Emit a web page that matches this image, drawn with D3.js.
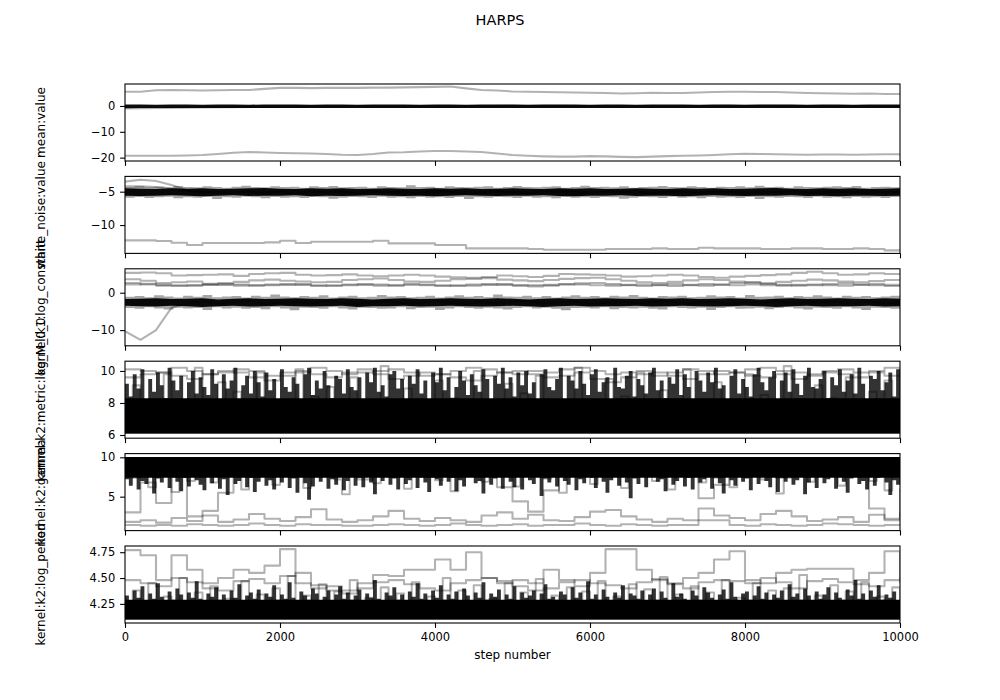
<!DOCTYPE html>
<html><head><meta charset="utf-8">
<script src="https://cdn.jsdelivr.net/npm/d3@7"></script>
<style>body{margin:0;background:#fff}</style>
</head><body><div id="chart"></div>
<script>
// ---------------- DATA ----------------
const title = "HARPS";
const xLabel = "step number";
const labels = ["mean:value","white_noise:value","kernel:k1:log_constant","kernel:k2:metric:log_M_0_0","kernel:k2:gamma","kernel:k2:log_period"];
const nSteps = 10000;
const xTicks = [0,2000,4000,6000,8000,10000];
const yDomains = [[-21.3,8.5],[-14.25,-2.71],[-14.2,6.4],[5.8,10.61],[0.69,10.47],[4.065,4.81]];
const yTicks = [[-20,-10,0],[-10,-5],[-10,0],[6,8,10],[5,10],[4.25,4.5,4.75]];

// panel 1: mean:value
const p1CoreLow = [-0.9,-0.75,-0.8,-0.75,-0.8,-0.75,-0.8,-0.75,-0.8,-0.8,-0.75,-0.75,-0.8,-0.75,-0.75,-0.8,-0.75,-0.8,-0.75,-0.8,-0.8,-0.75,-0.8,-0.75,-0.75,-0.8,-0.8,-0.75,-0.8,-0.75,-0.8,-0.75,-0.8,-0.8,-0.75,-0.75,-0.8,-0.8,-0.75,-0.8,-0.75,-0.8,-0.75,-0.8,-0.75,-0.8,-0.8,-0.75,-0.75,-0.8,-0.8];
const p1CoreHigh = [0.6,0.55,0.5,0.6,0.55,0.5,0.55,0.6,0.5,0.55,0.6,0.55,0.5,0.55,0.6,0.5,0.55,0.6,0.55,0.5,0.55,0.6,0.5,0.55,0.55,0.6,0.5,0.55,0.6,0.55,0.5,0.55,0.6,0.5,0.55,0.6,0.55,0.5,0.55,0.6,0.5,0.55,0.6,0.55,0.5,0.55,0.6,0.5,0.55,0.6,0.55];
const p1Upper = [5.5,5.5,6.1,6.2,6.1,6.0,6.1,6.2,6.2,6.6,7.0,7.0,6.9,7.0,7.0,7.0,7.1,7.1,7.2,7.3,7.4,7.5,6.8,6.2,6.0,5.6,5.5,5.4,5.3,5.2,5.1,5.0,4.8,4.9,5.1,5.0,5.0,5.2,5.4,5.5,5.5,5.4,5.4,5.2,5.0,4.9,4.8,4.7,4.8,4.6,4.6];
const p1Lower = [-19.3,-19.3,-19.3,-19.3,-19.2,-19.0,-18.6,-18.1,-17.8,-18.0,-18.2,-18.3,-18.4,-18.6,-18.9,-19.0,-18.6,-18.0,-17.9,-17.6,-17.4,-17.4,-17.6,-17.8,-18.4,-19.0,-19.3,-19.5,-19.6,-19.6,-19.4,-19.5,-19.7,-19.8,-19.6,-19.4,-19.3,-19.2,-19.0,-18.7,-18.5,-18.6,-18.7,-18.8,-18.9,-18.8,-18.8,-18.9,-18.8,-18.7,-18.7];
const p1Start = [-1.0,-0.6,-0.3,0.0,-0.2,0.1,0.0,-0.1,0.1,0.0,-0.1];

// panel 2: white_noise:value
const p2CoreLow = [-5.6,-5.65,-5.6,-5.55,-5.6,-5.7,-5.6,-5.55,-5.65,-5.6,-5.6,-5.55,-5.7,-5.6,-5.65,-5.6,-5.55,-5.6,-5.65,-5.6,-5.7,-5.6,-5.55,-5.6,-5.65,-5.6,-5.6,-5.55,-5.65,-5.7,-5.6,-5.6,-5.55,-5.65,-5.6,-5.6,-5.7,-5.6,-5.55,-5.6,-5.65,-5.6,-5.6,-5.55,-5.65,-5.6,-5.7,-5.6,-5.6,-5.65,-5.6];
const p2CoreHigh = [-4.5,-4.55,-4.6,-4.5,-4.55,-4.5,-4.6,-4.55,-4.5,-4.45,-4.55,-4.6,-4.5,-4.55,-4.5,-4.6,-4.55,-4.5,-4.55,-4.6,-4.5,-4.55,-4.5,-4.6,-4.55,-4.5,-4.55,-4.6,-4.5,-4.55,-4.5,-4.6,-4.55,-4.5,-4.55,-4.6,-4.5,-4.55,-4.5,-4.6,-4.55,-4.5,-4.45,-4.55,-4.6,-4.5,-4.55,-4.5,-4.6,-4.55,-4.5];
const p2FuzzHigh = [-4.3,-4.2,-4.35,-4.25,-4.4,-4.15,-4.3,-4.35,-4.2,-4.3,-4.4,-4.25,-4.1,-4.3,-4.35,-4.2,-4.3,-4.25,-4.4,-4.2,-4.3,-4.15,-4.35,-4.3,-4.25,-4.4,-4.2,-4.3,-4.35,-4.05,-4.3,-4.25,-4.4,-4.2,-4.3,-4.35,-4.25,-4.2,-4.4,-4.3,-4.15,-4.3,-4.35,-4.25,-4.2,-4.4,-4.3,-4.1,-4.3,-4.25,-4.35,-4.2,-4.4,-4.3,-4.25,-4.15,-4.3,-4.35,-4.2,-4.3,-4.4,-4.25,-4.3,-4.2,-4.35,-4.1,-4.3,-4.25,-4.4,-4.2,-4.3,-4.35,-4.25,-4.2,-4.3,-4.15,-4.4,-4.3,-4.25,-4.35,-4.3];
const p2FuzzLow = [-5.9,-5.8,-5.95,-5.85,-5.75,-6.0,-5.85,-5.9,-5.8,-6.1,-5.85,-5.9,-5.75,-5.85,-6.0,-5.8,-5.9,-5.85,-5.95,-5.8,-5.85,-6.05,-5.9,-5.8,-5.85,-5.95,-5.75,-5.9,-5.85,-6.0,-5.8,-5.9,-5.85,-5.95,-5.8,-6.1,-5.85,-5.9,-5.8,-5.85,-5.95,-5.75,-5.9,-5.85,-6.0,-5.8,-5.9,-5.85,-5.95,-5.8,-5.85,-6.05,-5.9,-5.8,-5.85,-5.95,-5.75,-5.9,-5.85,-6.0,-5.8,-5.9,-5.85,-5.95,-5.8,-6.1,-5.85,-5.9,-5.8,-5.85,-5.95,-5.75,-5.9,-5.85,-6.0,-5.8,-5.9,-5.85,-5.95,-5.8,-5.85];
const p2WalkerA = [-3.5,-3.2,-3.4,-4.0,-4.8,-5.0,-5.2,-4.9,-5.1,-5.3,-4.9,-5.0,-5.2,-5.1,-4.9,-5.2,-5.0,-5.1,-4.9,-5.3,-5.0,-5.1,-4.9,-5.2,-5.0,-5.1,-5.2,-4.9,-5.0,-5.3,-5.1,-4.9,-5.0,-5.2,-5.1,-5.0,-4.9,-5.2,-5.1,-5.0,-5.3,-4.9,-5.1,-5.0,-5.2,-4.9,-5.1,-5.0,-5.2,-5.1,-5.0];
const p2WalkerB = [-4.2,-4.2,-4.3,-4.5,-4.9,-5.1,-5.0,-5.2,-4.9,-5.1,-5.0,-5.3,-4.9,-5.0,-5.1,-5.2,-4.9,-5.0,-5.2,-5.1,-4.9,-5.0,-5.3,-5.1,-4.9,-5.0,-5.2,-5.1,-5.0,-4.9,-5.2,-5.0,-5.1,-4.9,-5.3,-5.0,-5.1,-5.2,-4.9,-5.0,-5.1,-5.2,-5.0,-4.9,-5.1,-5.3,-5.0,-5.1,-4.9,-5.0,-5.2];
const p2Lower = [-12.3,-12.3,-12.4,-12.65,-13.0,-12.7,-12.7,-12.7,-12.7,-12.6,-12.35,-12.7,-12.5,-12.5,-12.5,-12.5,-12.35,-12.75,-12.75,-12.75,-13.0,-13.0,-13.5,-13.5,-13.5,-13.5,-13.6,-13.7,-13.7,-13.7,-13.7,-13.6,-13.6,-13.6,-13.5,-13.6,-13.6,-13.4,-13.5,-13.5,-13.5,-13.6,-13.6,-13.5,-13.5,-13.6,-13.6,-13.5,-13.6,-13.8,-13.8];

// panel 3: kernel:k1:log_constant
const p3CoreLow = [-3.5,-3.6,-3.7,-3.5,-3.6,-3.8,-3.6,-3.5,-3.7,-3.6,-3.5,-3.6,-3.7,-3.6,-3.5,-3.8,-3.6,-3.6,-3.5,-3.7,-3.6,-3.5,-3.6,-3.7,-3.6,-3.5,-3.6,-3.8,-3.6,-3.5,-3.7,-3.6,-3.6,-3.5,-3.7,-3.6,-3.5,-3.6,-3.7,-3.6,-3.5,-3.6,-3.8,-3.6,-3.5,-3.7,-3.6,-3.6,-3.5,-3.7,-3.6];
const p3CoreHigh = [-1.7,-1.6,-1.5,-1.7,-1.6,-1.5,-1.8,-1.6,-1.5,-1.7,-1.6,-1.5,-1.6,-1.7,-1.5,-1.6,-1.8,-1.6,-1.5,-1.7,-1.6,-1.5,-1.6,-1.7,-1.5,-1.6,-1.8,-1.6,-1.5,-1.7,-1.6,-1.5,-1.6,-1.7,-1.5,-1.6,-1.5,-1.7,-1.6,-1.5,-1.6,-1.8,-1.6,-1.5,-1.7,-1.6,-1.5,-1.6,-1.7,-1.5,-1.6];
const p3FuzzHigh = [-1.1,-0.9,-1.2,-0.7,-1.0,-1.3,-0.8,-1.1,-0.6,-1.2,-1.0,-0.9,-1.3,-0.8,-1.1,-0.5,-1.0,-1.2,-0.9,-1.1,-0.7,-1.3,-1.0,-0.8,-1.2,-1.1,-0.6,-1.0,-0.9,-1.2,-1.1,-0.8,-1.3,-1.0,-0.7,-1.1,-0.9,-1.2,-0.5,-1.0,-1.1,-0.8,-1.2,-0.9,-1.3,-1.0,-0.7,-1.1,-0.9,-1.2,-0.8,-1.0,-0.6,-1.1,-1.3,-0.9,-1.0,-0.8,-1.2,-1.1,-0.7,-1.0,-0.9,-1.3,-0.6,-1.1,-1.0,-0.8,-1.2,-0.9,-1.1,-0.7,-1.0,-1.3,-0.8,-1.1,-0.9,-1.2,-1.0,-0.8,-1.1];
const p3FuzzLow = [-4.1,-4.3,-3.9,-4.2,-4.5,-4.0,-4.2,-4.1,-4.6,-3.9,-4.2,-4.0,-4.3,-4.1,-4.4,-3.9,-4.2,-4.7,-4.0,-4.1,-4.3,-3.9,-4.2,-4.5,-4.0,-4.1,-4.3,-4.2,-3.9,-4.4,-4.1,-4.0,-4.6,-4.2,-3.9,-4.1,-4.3,-4.0,-4.2,-4.5,-4.1,-3.9,-4.2,-4.0,-4.3,-4.7,-4.1,-4.0,-4.2,-3.9,-4.4,-4.1,-4.2,-4.0,-4.3,-4.5,-3.9,-4.1,-4.2,-4.0,-4.6,-4.1,-3.9,-4.3,-4.2,-4.0,-4.4,-4.1,-3.9,-4.2,-4.5,-4.0,-4.1,-4.3,-3.9,-4.2,-4.6,-4.0,-4.1,-4.3,-4.2];
const p3Top = [5.3,5.4,5.2,4.6,4.7,4.8,4.9,4.5,5.0,5.2,5.3,4.8,4.6,4.7,4.9,4.6,4.4,4.6,4.8,4.6,4.3,4.1,4.0,4.2,4.6,4.4,4.2,4.5,5.0,4.9,4.8,4.6,4.3,4.4,4.6,4.8,4.6,4.2,4.0,4.3,4.5,4.7,4.9,5.3,5.6,5.2,4.8,4.9,5.2,5.0,4.8];
const p3Mid = [3.6,3.2,2.6,2.8,3.0,2.4,2.6,2.9,3.3,3.5,3.2,3.0,2.8,2.9,3.4,3.6,3.8,3.4,3.0,2.9,3.2,3.6,3.7,3.9,3.5,3.3,3.1,3.4,3.7,3.9,4.0,3.6,3.2,2.8,2.6,2.9,3.3,3.6,3.4,3.0,2.7,2.5,2.9,3.2,3.5,3.3,3.0,2.8,3.1,3.4,3.6];
const p3LowA = [2.6,2.2,1.9,1.8,2.0,2.2,2.1,1.9,2.0,2.2,2.3,2.1,1.8,2.0,2.2,2.1,1.9,2.0,2.4,2.2,2.0,1.8,1.9,2.1,2.3,2.0,1.7,1.9,2.2,2.5,2.6,2.3,2.0,1.8,2.1,2.3,2.0,1.9,2.2,2.6,2.8,2.4,2.1,1.9,2.0,2.3,2.5,2.2,2.0,1.8,2.0];
const p3LowB = [2.2,2.4,2.1,2.0,1.9,2.1,2.3,2.2,1.9,2.0,2.1,2.3,2.0,1.8,2.0,2.3,2.2,1.9,2.1,2.0,1.8,2.0,2.2,2.3,2.1,1.9,2.0,2.1,2.3,2.2,2.0,1.9,2.1,2.2,2.0,1.8,2.1,2.3,2.1,2.0,2.2,2.0,1.9,2.1,2.2,2.0,1.9,2.1,2.3,2.1,2.2];
const p3Start = [-10.3,-12.6,-10.0,-4.0,-2.8,-2.3,-2.9,-2.5,-2.1,-3.0,-2.7,-2.4,-2.8,-2.2,-2.6,-3.1,-2.5,-2.3,-2.9,-2.7,-2.2,-2.6,-3.0,-2.4,-2.8,-2.5,-2.1,-2.9,-2.6,-2.3,-3.0,-2.7,-2.4,-2.8,-2.5,-2.2,-2.9,-2.6,-2.4,-3.0,-2.5,-2.7,-2.3,-2.8,-2.6,-2.4,-2.5,-2.7,-2.3,-2.8,-2.6];

// panel 4: kernel:k2:metric:log_M_0_0  (bulk floor, solid level, streak tops)
const p4Floor = 6.1;
const p4Solid = 8.3;
const p4StreakTop = [9.2,8.4,9.8,8.9,10.1,8.1,9.5,8.7,9.9,9.1,8.3,10.2,9.4,8.8,9.7,8.0,9.3,10.0,8.6,9.6,
 9.0,8.5,10.1,9.2,7.9,9.8,8.9,9.4,10.2,8.2,9.1,9.7,8.6,10.0,9.3,8.4,9.9,8.8,9.5,8.1,
 10.1,9.0,8.7,9.6,9.2,7.8,9.8,10.2,8.5,9.4,8.9,10.0,9.1,8.3,9.7,9.5,8.6,10.1,9.0,8.8,
 9.6,8.2,9.9,9.3,10.2,8.7,9.1,8.4,9.8,10.0,8.9,9.5,7.9,9.7,9.2,10.1,8.6,9.4,8.1,9.9,
 9.3,10.2,8.8,9.6,8.3,9.0,10.0,9.4,8.5,9.8,9.1,8.7,10.1,9.5,8.0,9.7,9.2,10.2,8.9,9.6,
 8.4,9.9,9.1,10.0,8.6,9.3,7.8,9.8,10.1,9.0,8.8,9.5,10.2,8.2,9.7,9.4,8.9,10.0,9.2,8.5,
 9.8,10.1,8.7,9.3,9.6,8.1,10.2,9.0,8.9,9.7,10.0,8.4,9.5,9.1,8.6,9.9,10.2,8.8,9.4,8.3,
 9.6,9.2,10.1,8.5,9.8,9.0,8.2,10.0,9.4,8.7,9.9,9.3,10.2,8.9,9.1,7.9,9.7,10.1,8.6,9.5,
 9.0,8.4,9.8,10.2,9.3,8.8,9.6,10.0,8.1,9.4,9.9,8.7,10.1,9.2,8.5,9.7,10.2,9.0,8.9,9.5,
 10.0,8.3,9.6,9.1,10.1,8.7,9.4,9.8,8.6,10.2,9.2,8.0,9.7,9.5,10.0,8.8,9.3,9.9,8.4,10.1,9.0];
const p4Zig1 = [6.4,9.1,7.0,8.2,6.3,9.8,6.8,7.9,6.5,10.2,7.2,6.6,9.3,6.4,8.7,7.1,6.3,9.9,6.9,8.0,6.5,7.6,10.1,6.7,8.4,6.3,9.0,7.3,6.6,9.6,6.8,8.1,6.4,10.3,7.0,6.5,8.9,6.9,7.7,6.3,9.4,6.6,8.3,7.2,6.4,10.0,6.8,7.5,6.5,9.2,6.7,8.6,6.3,9.7,7.1,6.5,8.0,6.9,10.2,6.4,7.8,6.6,9.5,6.8,8.4,6.3,9.9,7.0,6.5,8.8,6.7,7.4,10.1,6.4,8.2,6.9,9.3,6.5,7.7,6.3,9.8,6.8,8.5,7.2,6.4,10.3,6.6,7.9,6.5,9.1,6.9,8.3,6.4,9.6,7.0,6.6,8.7,6.3,9.4,6.8,7.6];
const p4TopA = [10.1,10.0,9.9,10.2,10.0,9.8,9.9,10.1,10.0,9.7,9.9,10.0,10.2,10.0,9.8,9.9,10.0,10.1,9.9,9.7,9.8,10.0,10.2,10.1,9.9,9.8,10.0,9.9,10.1,10.2,10.0,9.8,9.9,10.0,9.7,9.9,10.1,10.0,9.8,9.9,10.1,10.2,10.0,9.9,9.8,10.0,10.1,9.9,10.0,10.2,10.0];
const p4TopB = [9.6,9.8,9.9,9.7,9.5,9.8,10.0,9.9,9.6,9.4,9.7,9.9,9.8,9.6,9.9,10.1,9.8,9.5,9.7,9.9,9.8,9.6,9.4,9.7,9.9,10.0,9.8,9.6,9.7,9.9,9.5,9.3,9.6,9.8,9.9,9.7,9.5,9.8,10.0,9.9,9.7,9.6,9.8,9.5,9.7,9.9,9.8,9.6,9.9,9.7,9.8];

// panel 5: kernel:k2:gamma  (bulk ceiling, solid level, streak bottoms)
const p5Ceiling = 10.05;
const p5Solid = 7.4;
const p5StreakBottom = [7.2,6.4,7.8,5.9,7.0,6.6,8.1,5.4,7.3,6.8,7.6,6.1,7.9,6.9,5.7,7.4,6.3,8.0,7.1,6.5,
 5.8,7.5,6.7,8.2,6.0,7.2,5.2,7.7,6.6,7.0,8.4,6.2,7.4,5.6,6.9,7.8,6.4,7.1,5.9,7.6,
 6.8,8.0,6.1,7.3,5.5,7.9,6.7,4.6,6.3,7.5,6.9,8.3,6.0,7.2,6.5,7.7,5.8,7.0,8.1,6.4,
 7.4,6.2,7.9,6.8,5.3,7.6,7.0,8.2,6.5,7.3,5.9,7.8,6.6,7.1,8.5,6.1,7.5,6.8,5.6,7.9,
 7.2,6.4,8.0,6.9,7.4,5.7,7.1,6.3,7.8,8.3,6.7,7.0,5.4,7.6,6.5,7.3,8.1,6.0,7.7,6.9,
 6.2,7.5,5.9,8.0,7.1,6.6,7.8,5.1,7.3,6.8,7.6,6.3,8.2,7.0,6.5,7.9,5.8,7.2,6.7,8.4,
 7.4,6.1,7.7,6.9,5.5,7.1,8.0,6.4,7.5,6.8,4.8,7.3,6.6,7.9,6.2,7.6,8.3,6.9,7.2,5.7,
 7.8,6.5,7.0,8.1,6.3,7.4,5.9,7.7,6.8,7.2,8.5,6.0,7.5,6.7,5.4,7.9,7.1,6.4,8.2,6.9,
 7.3,5.8,7.6,6.6,8.0,7.0,6.2,7.8,5.6,7.4,6.9,8.3,6.5,7.1,7.7,5.3,6.8,7.5,6.1,7.9,
 6.7,7.2,8.1,6.0,7.6,6.9,5.5,7.3,8.4,6.6,7.0,5.9,7.8,6.4,7.4,8.0,6.8,5.2,7.1,6.5,7.0];
const p5Zig1 = [9.9,7.4,9.6,6.2,9.8,8.1,5.6,9.7,7.0,9.9,8.5,6.8,9.5,7.7,9.8,5.9,9.6,8.3,9.9,6.5,9.4,7.9,9.8,6.1,9.7,8.6,9.9,7.2,5.3,9.6,8.0,9.8,6.7,9.5,7.5,9.9,6.0,9.7,8.4,9.8,7.1,9.6,5.7,9.9,8.2,9.5,6.9,9.8,7.6,9.7,6.3,9.9,8.7,9.6,7.3,9.8,5.5,9.7,8.0,9.9,6.6,9.5,7.8,9.8,6.1,9.6,8.5,9.9,7.0,9.7,5.9,9.8,8.3,9.6,6.8,9.9,7.4,9.5,6.2,9.8,8.6,9.7,7.2,9.9,5.4,9.6,8.1,9.8,6.9,9.7,7.7,9.9,6.4,9.5,8.4,9.8,7.0,9.6,5.8,9.9,8.2];
const p5LowA = [1.4,1.3,1.4,1.3,1.5,1.4,1.3,1.4,1.6,1.4,1.3,1.5,1.4,1.4,1.3,1.3,1.4,1.5,1.4,1.3,1.4,1.6,1.4,1.3,1.4,1.5,1.3,1.4,1.4,1.6,1.4,1.3,1.5,1.4,1.3,1.4,1.4,2.0,2.0,1.4,1.3,1.5,1.4,1.3,1.4,1.6,1.5,1.4,1.3,1.4,1.5];
const p5LowB = [1.8,2.0,1.7,2.3,1.9,2.6,1.8,2.1,2.8,2.2,1.9,2.4,3.4,2.1,1.8,2.0,2.5,3.2,2.2,1.9,2.3,2.0,1.8,2.6,3.0,2.2,2.7,2.0,1.9,2.4,3.1,3.3,2.5,2.1,1.8,2.2,2.0,3.5,2.6,2.3,2.0,2.8,3.2,2.5,1.9,2.1,2.4,1.8,2.7,2.2,3.0];
const p5Dip = [3.0,6.8,4.2,7.5,2.5,3.2,5.5,7.8,8.5,9.0,8.2,8.8,7.6,9.1,8.0,7.2,8.7,9.3,8.1,7.5,8.6,9.0,8.3,7.8,6.2,4.4,3.1,5.8,8.4,9.2,8.0,8.7,7.9,8.9,9.4,8.3,7.7,4.8,6.5,8.8,9.1,8.2,7.4,8.6,9.0,8.1,7.6,8.5,3.5,2.0,6.0];

// panel 6: kernel:k2:log_period  (bulk floor, solid level, streak tops)
const p6Floor = 4.1;
const p6Solid = 4.29;
const p6StreakTop = [4.33,4.28,4.38,4.31,4.42,4.27,4.35,4.30,4.45,4.32,4.26,4.37,4.29,4.40,4.34,4.28,4.36,4.31,4.47,4.30,
 4.27,4.35,4.32,4.41,4.29,4.34,4.25,4.38,4.31,4.44,4.28,4.33,4.36,4.30,4.39,4.26,4.35,4.32,4.43,4.29,
 4.34,4.30,4.46,4.31,4.27,4.37,4.33,4.29,4.40,4.35,4.28,4.32,4.38,4.26,4.34,4.42,4.30,4.36,4.29,4.33,
 4.39,4.28,4.35,4.31,4.48,4.30,4.27,4.36,4.33,4.41,4.29,4.34,4.26,4.37,4.32,4.45,4.30,4.35,4.28,4.38,
 4.31,4.43,4.29,4.34,4.30,4.37,4.27,4.40,4.33,4.28,4.36,4.31,4.46,4.29,4.35,4.32,4.39,4.26,4.34,4.30,
 4.42,4.28,4.36,4.31,4.33,4.38,4.27,4.35,4.44,4.30,4.32,4.29,4.37,4.34,4.26,4.41,4.31,4.36,4.28,4.47,
 4.30,4.34,4.29,4.39,4.32,4.27,4.36,4.31,4.43,4.28,4.35,4.33,4.30,4.38,4.26,4.34,4.40,4.29,4.37,4.31,
 4.28,4.45,4.32,4.35,4.30,4.27,4.38,4.33,4.29,4.41,4.36,4.31,4.26,4.34,4.39,4.30,4.46,4.32,4.28,4.35,
 4.37,4.29,4.33,4.42,4.30,4.36,4.27,4.34,4.31,4.38,4.28,4.44,4.32,4.35,4.29,4.40,4.33,4.26,4.37,4.30,
 4.34,4.41,4.28,4.36,4.31,4.29,4.39,4.33,4.48,4.30,4.35,4.27,4.38,4.32,4.43,4.29,4.34,4.31,4.37,4.28,4.33];
const p6Zig1 = [4.15,4.38,4.18,4.45,4.13,4.32,4.20,4.50,4.14,4.36,4.17,4.42,4.12,4.30,4.22,4.47,4.15,4.34,4.13,4.40,4.19,4.52,4.14,4.33,4.16,4.44,4.12,4.37,4.21,4.48,4.15,4.31,4.13,4.41,4.18,4.35,4.14,4.46,4.16,4.32,4.12,4.50,4.19,4.38,4.14,4.43,4.17,4.30,4.13,4.45,4.20,4.36,4.15,4.49,4.13,4.33,4.18,4.41,4.14,4.37,4.16,4.47,4.12,4.32,4.19,4.44,4.15,4.39,4.13,4.51,4.17,4.34,4.14,4.42,4.20,4.36,4.12,4.48,4.16,4.31,4.14,4.45,4.18,4.38,4.13,4.40,4.15,4.53,4.17,4.33,4.12,4.43,4.19,4.37,4.14,4.46,4.16,4.32,4.13,4.41,4.18];
const p6High = [4.77,4.72,4.48,4.72,4.58,4.45,4.50,4.58,4.55,4.62,4.78,4.45,4.40,4.42,4.38,4.45,4.53,4.52,4.58,4.58,4.68,4.58,4.75,4.50,4.45,4.48,4.45,4.58,4.48,4.42,4.55,4.78,4.78,4.58,4.48,4.45,4.50,4.55,4.68,4.76,4.48,4.45,4.55,4.58,4.59,4.59,4.59,4.48,4.55,4.76,4.45];
const p6Mid = [4.48,4.45,4.42,4.50,4.46,4.40,4.38,4.47,4.49,4.45,4.52,4.55,4.43,4.38,4.35,4.40,4.46,4.48,4.44,4.40,4.38,4.45,4.48,4.50,4.47,4.42,4.38,4.40,4.46,4.48,4.45,4.43,4.40,4.46,4.49,4.44,4.40,4.46,4.48,4.47,4.45,4.50,4.46,4.40,4.47,4.49,4.46,4.44,4.42,4.48,4.50];

// ---------------- PANEL CONFIG (styles only) ----------------
const panels = [
  {band:[p1CoreLow,p1CoreHigh], walkers:[[p1Start,"lin"],[p1Upper,"lin"],[p1Lower,"lin"]]},
  {fuzz:[p2FuzzLow,p2FuzzHigh], band:[p2CoreLow,p2CoreHigh], walkers:[[p2WalkerA,"lin"],[p2WalkerB,"lin"],[p2Lower,"step"]]},
  {fuzz:[p3FuzzLow,p3FuzzHigh], band:[p3CoreLow,p3CoreHigh], walkers:[[p3Top,"step"],[p3Mid,"step"],[p3LowA,"step"],[p3LowB,"step"],[p3Start,"lin"]]},
  {bulk:{base:p4Floor, solid:p4Solid, edge:p4StreakTop}, walkers:[[p4Zig1,"step"],[p4TopA,"step"],[p4TopB,"step"]]},
  {bulk:{base:p5Ceiling, solid:p5Solid, edge:p5StreakBottom}, walkers:[[p5Zig1,"step"],[p5LowA,"step"],[p5LowB,"step"],[p5Dip,"step"]]},
  {bulk:{base:p6Floor, solid:p6Solid, edge:p6StreakTop}, walkers:[[p6Zig1,"step"],[p6High,"step"],[p6Mid,"step"]]}
];

// ---------------- DRAW ----------------
const W = 1000, H = 700;
const L = 125, R = 900, T = 84, B = 623, hs = 0.2, n = panels.length;
const ph = (B - T) / (n + (n - 1) * hs), gap = ph * hs;
const font = "DejaVu Sans";
const svg = d3.select("#chart").append("svg").attr("width", W).attr("height", H)
  .style("font-family", font);
const x = d3.scaleLinear().domain([0, nSteps]).range([L, R]);
const stepOf = (arr) => (i) => i * nSteps / (arr.length - 1);

svg.append("text").attr("x", W / 2).attr("y", 25).attr("text-anchor", "middle")
  .attr("font-size", 14.5).attr("fill", "#000").text(title);

panels.forEach((p, i) => {
  const y0 = T + i * (ph + gap);
  const y = d3.scaleLinear().domain(yDomains[i]).range([y0 + ph, y0]);
  const g = svg.append("g");
  const cid = "clip" + i;
  svg.append("clipPath").attr("id", cid).append("rect")
    .attr("x", L).attr("y", y0).attr("width", R - L).attr("height", ph);
  const plot = g.append("g").attr("clip-path", `url(#${cid})`);

  if (p.fuzz) {
    const [lo, hi] = p.fuzz;
    const sx = stepOf(lo);
    const area = d3.area().curve(d3.curveStepAfter)
      .x((d, k) => x(sx(k))).y0((d, k) => y(lo[k])).y1((d, k) => y(hi[k]));
    plot.append("path").attr("d", area(lo)).attr("fill", "#000").attr("fill-opacity", 0.35);
  }
  if (p.band) {
    const [lo, hi] = p.band;
    const sx = stepOf(lo);
    const area = d3.area().x((d, k) => x(sx(k))).y0((d, k) => y(lo[k])).y1((d, k) => y(hi[k]));
    plot.append("path").attr("d", area(lo)).attr("fill", "#000").attr("fill-opacity", 0.95);
  }
  if (p.bulk) {
    const b = p.bulk, sx = stepOf(b.edge);
    const streak = d3.area().curve(d3.curveStepAfter)
      .x((d, k) => x(sx(k))).y0(y(b.base)).y1(d => y(d));
    plot.append("path").attr("d", streak(b.edge)).attr("fill", "#000").attr("fill-opacity", 0.8);
    const solid = d3.area().x(d => x(d)).y0(y(b.base)).y1(y(b.solid));
    plot.append("path").attr("d", solid([0, nSteps])).attr("fill", "#000").attr("fill-opacity", 1);
  }

  p.walkers.forEach(([vals, c]) => {
    const s = stepOf(vals);
    const line = d3.line().x((d, k) => x(s(k))).y(d => y(d))
      .curve(c === "step" ? d3.curveStepAfter : d3.curveLinear);
    plot.append("path").attr("d", line(vals)).attr("fill", "none")
      .attr("stroke", "#000").attr("stroke-opacity", 0.3).attr("stroke-width", 2.08)
      .attr("stroke-linejoin", "round");
  });

  const fmt = i === 5 ? d3.format(".2f") : d3.format("d");
  const ay = g.append("g").attr("transform", `translate(${L},0)`)
    .call(d3.axisLeft(y).tickValues(yTicks[i]).tickFormat(fmt).tickSize(4.9).tickPadding(4.9));
  const ax = g.append("g").attr("transform", `translate(0,${y0 + ph})`)
    .call(d3.axisBottom(x).tickValues(xTicks).tickSize(4.9).tickPadding(4.9)
      .tickFormat(i === n - 1 ? d3.format("d") : () => ""));
  [ay, ax].forEach(a => {
    a.select(".domain").remove();
    a.selectAll("line").attr("stroke", "#000").attr("stroke-width", 1.1);
    a.selectAll("text").attr("font-size", 11.5).attr("font-family", font).attr("fill", "#000");
  });

  g.append("rect").attr("x", L).attr("y", y0).attr("width", R - L).attr("height", ph)
    .attr("fill", "none").attr("stroke", "#000").attr("stroke-width", 1.1);

  svg.append("text").attr("transform", `translate(45,${y0 + ph / 2}) rotate(-90)`)
    .attr("text-anchor", "middle").attr("font-size", 12).attr("fill", "#000").text(labels[i]);
});

svg.append("text").attr("x", (L + R) / 2).attr("y", 659).attr("text-anchor", "middle")
  .attr("font-size", 12).attr("fill", "#000").text(xLabel);
</script>
</body></html>
